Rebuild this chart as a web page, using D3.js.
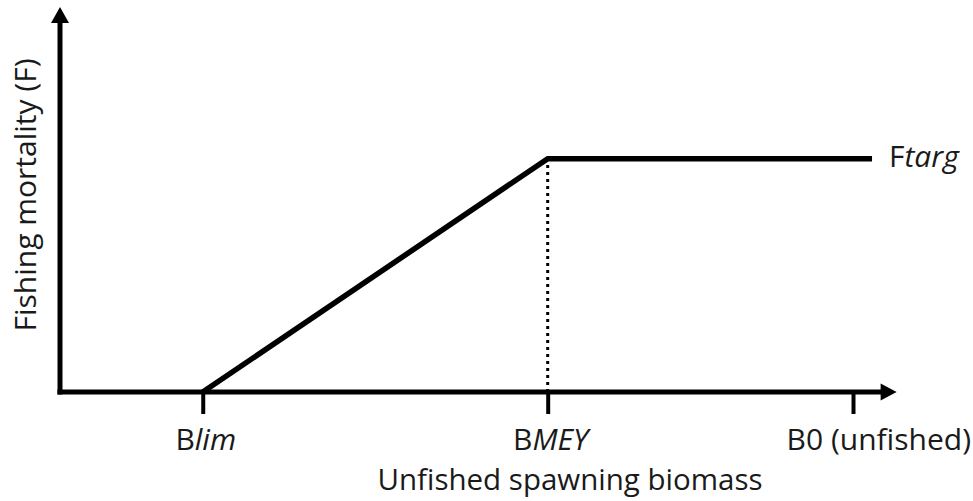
<!DOCTYPE html>
<html><head><meta charset="utf-8">
<script src="https://cdn.jsdelivr.net/npm/d3@7"></script>
<style>
html,body{margin:0;padding:0;background:#fff;}
text{font-family:"Open Sans",sans-serif;fill:#1a1a1a;}
</style></head>
<body><svg id="chart" width="973" height="501"></svg>
<script>
// Data (biomass as % of unfished, F relative to Ftarg)
const refPoints = [
  {key:"Blim", base:"B", ital:"lim", x:18},
  {key:"BMEY", base:"B", ital:"MEY", x:61.5},
  {key:"B0", base:"B0 (unfished)", ital:"", x:100}
];
const hcrX = [18, 61.5, 102.4];
const hcrF = [0, 1, 1];
const xMax = 105.5;   // axis arrow end
const yMax = 1.65;    // axis arrow end
const xLabel = "Unfished spawning biomass";
const yLabel = "Fishing mortality (F)";
const lineLabel = {base:"F", ital:"targ"};

const svg = d3.select("#chart");
const x = d3.scaleLinear().domain([0,100]).range([60,853]);
const y = d3.scaleLinear().domain([0,yMax]).range([392,7]);

// axes lines
svg.append("line").attr("x1",x(0)).attr("x2",x(0)).attr("y1",y(0)+2.5).attr("y2",y(yMax)+14)
  .attr("stroke","#000").attr("stroke-width",5);
svg.append("line").attr("x1",x(0)-2.5).attr("x2",x(xMax)-13).attr("y1",y(0)).attr("y2",y(0))
  .attr("stroke","#000").attr("stroke-width",5);
// arrowheads
svg.append("path").attr("d",`M${x(0)},${y(yMax)} L${x(0)+9},${y(yMax)+16} L${x(0)-9},${y(yMax)+16}Z`).attr("fill","#000");
svg.append("path").attr("d",`M${x(xMax)},${y(0)} L${x(xMax)-16},${y(0)-8.5} L${x(xMax)-16},${y(0)+8.5}Z`).attr("fill","#000");

// ticks
const xAxis = d3.axisBottom(x).tickValues(refPoints.map(d=>d.x)).tickSize(22).tickFormat("");
const g = svg.append("g").attr("transform",`translate(0,${y(0)})`).call(xAxis);
g.select(".domain").remove();
g.selectAll(".tick line").attr("stroke","#000").attr("stroke-width",4);

// dotted line at BMEY
svg.append("line").attr("x1",x(hcrX[1])).attr("x2",x(hcrX[1])).attr("y1",y(0)).attr("y2",y(hcrF[1]))
  .attr("stroke","#000").attr("stroke-width",3).attr("stroke-dasharray","3,4");

// HCR line
const line = d3.line().x((d,i)=>x(hcrX[i])).y((d,i)=>y(hcrF[i]));
svg.append("path").datum(hcrX).attr("d",line).attr("fill","none").attr("stroke","#000")
  .attr("stroke-width",5.5).attr("stroke-linejoin","miter");

// tick labels
refPoints.forEach(d=>{
  const t = svg.append("text").attr("y",450).attr("font-size",30);
  if(d.key==="B0"){ t.attr("x",971).attr("text-anchor","end"); }
  else { t.attr("x",x(d.x)+3).attr("text-anchor","middle"); }
  t.append("tspan").text(d.base);
  if(d.ital) t.append("tspan").attr("font-style","italic").text(d.ital);
});

// line label
const ft = svg.append("text").attr("x",889).attr("y",167).attr("font-size",30);
ft.append("tspan").text(lineLabel.base);
ft.append("tspan").attr("font-style","italic").text(lineLabel.ital);

// axis titles
svg.append("text").attr("x",570).attr("y",490).attr("text-anchor","middle").attr("font-size",29.5).text(xLabel);
svg.append("text").attr("transform","translate(36,195) rotate(-90)").attr("text-anchor","middle").attr("font-size",30).text(yLabel);
</script></body></html>
